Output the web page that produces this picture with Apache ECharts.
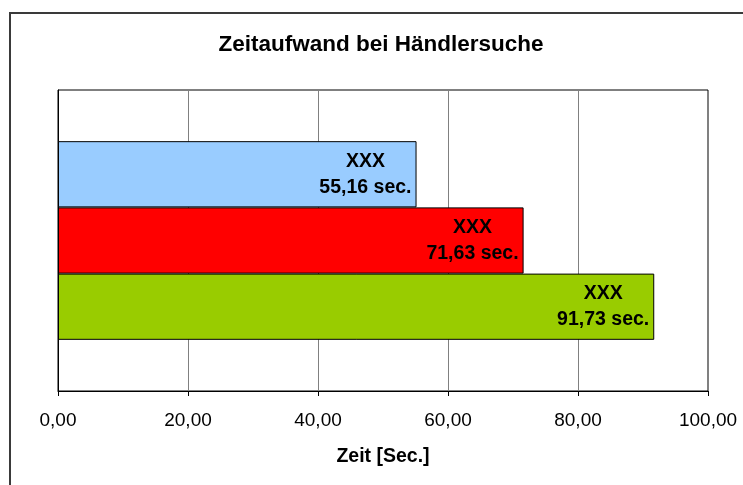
<!DOCTYPE html>
<html>
<head>
<meta charset="utf-8">
<title>Zeitaufwand bei Händlersuche</title>
<script src="https://cdn.jsdelivr.net/npm/echarts@6/dist/echarts.min.js"></script>
<style>
  html, body { margin: 0; padding: 0; background: #fff; }
  #chart { width: 743px; height: 485px; }
</style>
</head>
<body>
<div id="chart"></div>
<script>
// Daten
const categories = ["Händlersuche"];
const seriesNames = ["XXX", "XXX", "XXX"];
const seriesValues = [55.16, 71.63, 91.73];
const seriesColors = ["#99ccff", "#ff0000", "#99cc00"];
const xTicks = [0, 20, 40, 60, 80, 100];

const fmt = (v) => v.toFixed(2).replace(".", ",");
const FONT = "Liberation Sans, Arial, sans-serif";

const myChart = echarts.init(document.getElementById("chart"));

// Balken, von oben nach unten
const series = seriesValues.map((val, i) => ({
  name: seriesNames[i] + i,
  type: "bar",
  barGap: "0%",
  barCategoryGap: "34%",
  itemStyle: {
    color: seriesColors[i],
    borderColor: "#000",
    borderWidth: 1,
  },
  label: {
    show: true,
    position: "insideRight",
    distance: 5,
    formatter: () => `{a|${seriesNames[i]}}\n{a|${fmt(val)} sec.}`,
    rich: {
      a: {
        align: "center",
        fontFamily: FONT,
        fontWeight: "bold",
        fontSize: 19.5,
        lineHeight: 26,
        color: "#000",
      },
    },
  },
  data: [val],
}));

let option = {
  animation: false,
  backgroundColor: "#fff",
  title: {
    text: "Zeitaufwand bei Händlersuche",
    left: 381,
    textAlign: "center",
    top: 33,
    padding: 0,
    textStyle: {
      fontFamily: FONT,
      fontWeight: "bold",
      fontSize: 22.5,
      color: "#000",
    },
  },
  graphic: [
    {
      type: "rect",
      shape: { x: 10, y: 13, width: 800, height: 600 },
      style: { fill: "none", stroke: "#3a3a3a", lineWidth: 2 },
      z: -1,
    },
  ],
  grid: {
    left: 58,
    right: 35,
    top: 90,
    bottom: 94,
    show: true,
    borderColor: "#000",
    borderWidth: 1,
  },
  xAxis: {
    type: "value",
    min: xTicks[0],
    max: xTicks[xTicks.length - 1],
    interval: 20,
    name: "Zeit [Sec.]",
    nameLocation: "middle",
    nameGap: 56,
    nameTextStyle: {
      fontFamily: FONT,
      fontWeight: "bold",
      fontSize: 19.5,
      color: "#000",
    },
    axisLine: { show: true, lineStyle: { color: "#000", width: 1 } },
    axisTick: { show: true, length: 5, lineStyle: { color: "#000" } },
    axisLabel: {
      margin: 20,
      fontFamily: FONT,
      fontSize: 19,
      color: "#000",
      formatter: (v) => fmt(v),
    },
    splitLine: { show: true, lineStyle: { color: "#808080", width: 1 } },
  },
  yAxis: {
    type: "category",
    inverse: true,
    data: categories,
    axisLine: { show: true, lineStyle: { color: "#000" } },
    axisTick: { show: false },
    axisLabel: { show: false },
  },
  series: series,
};

option && myChart.setOption(option);
</script>
</body>
</html>
